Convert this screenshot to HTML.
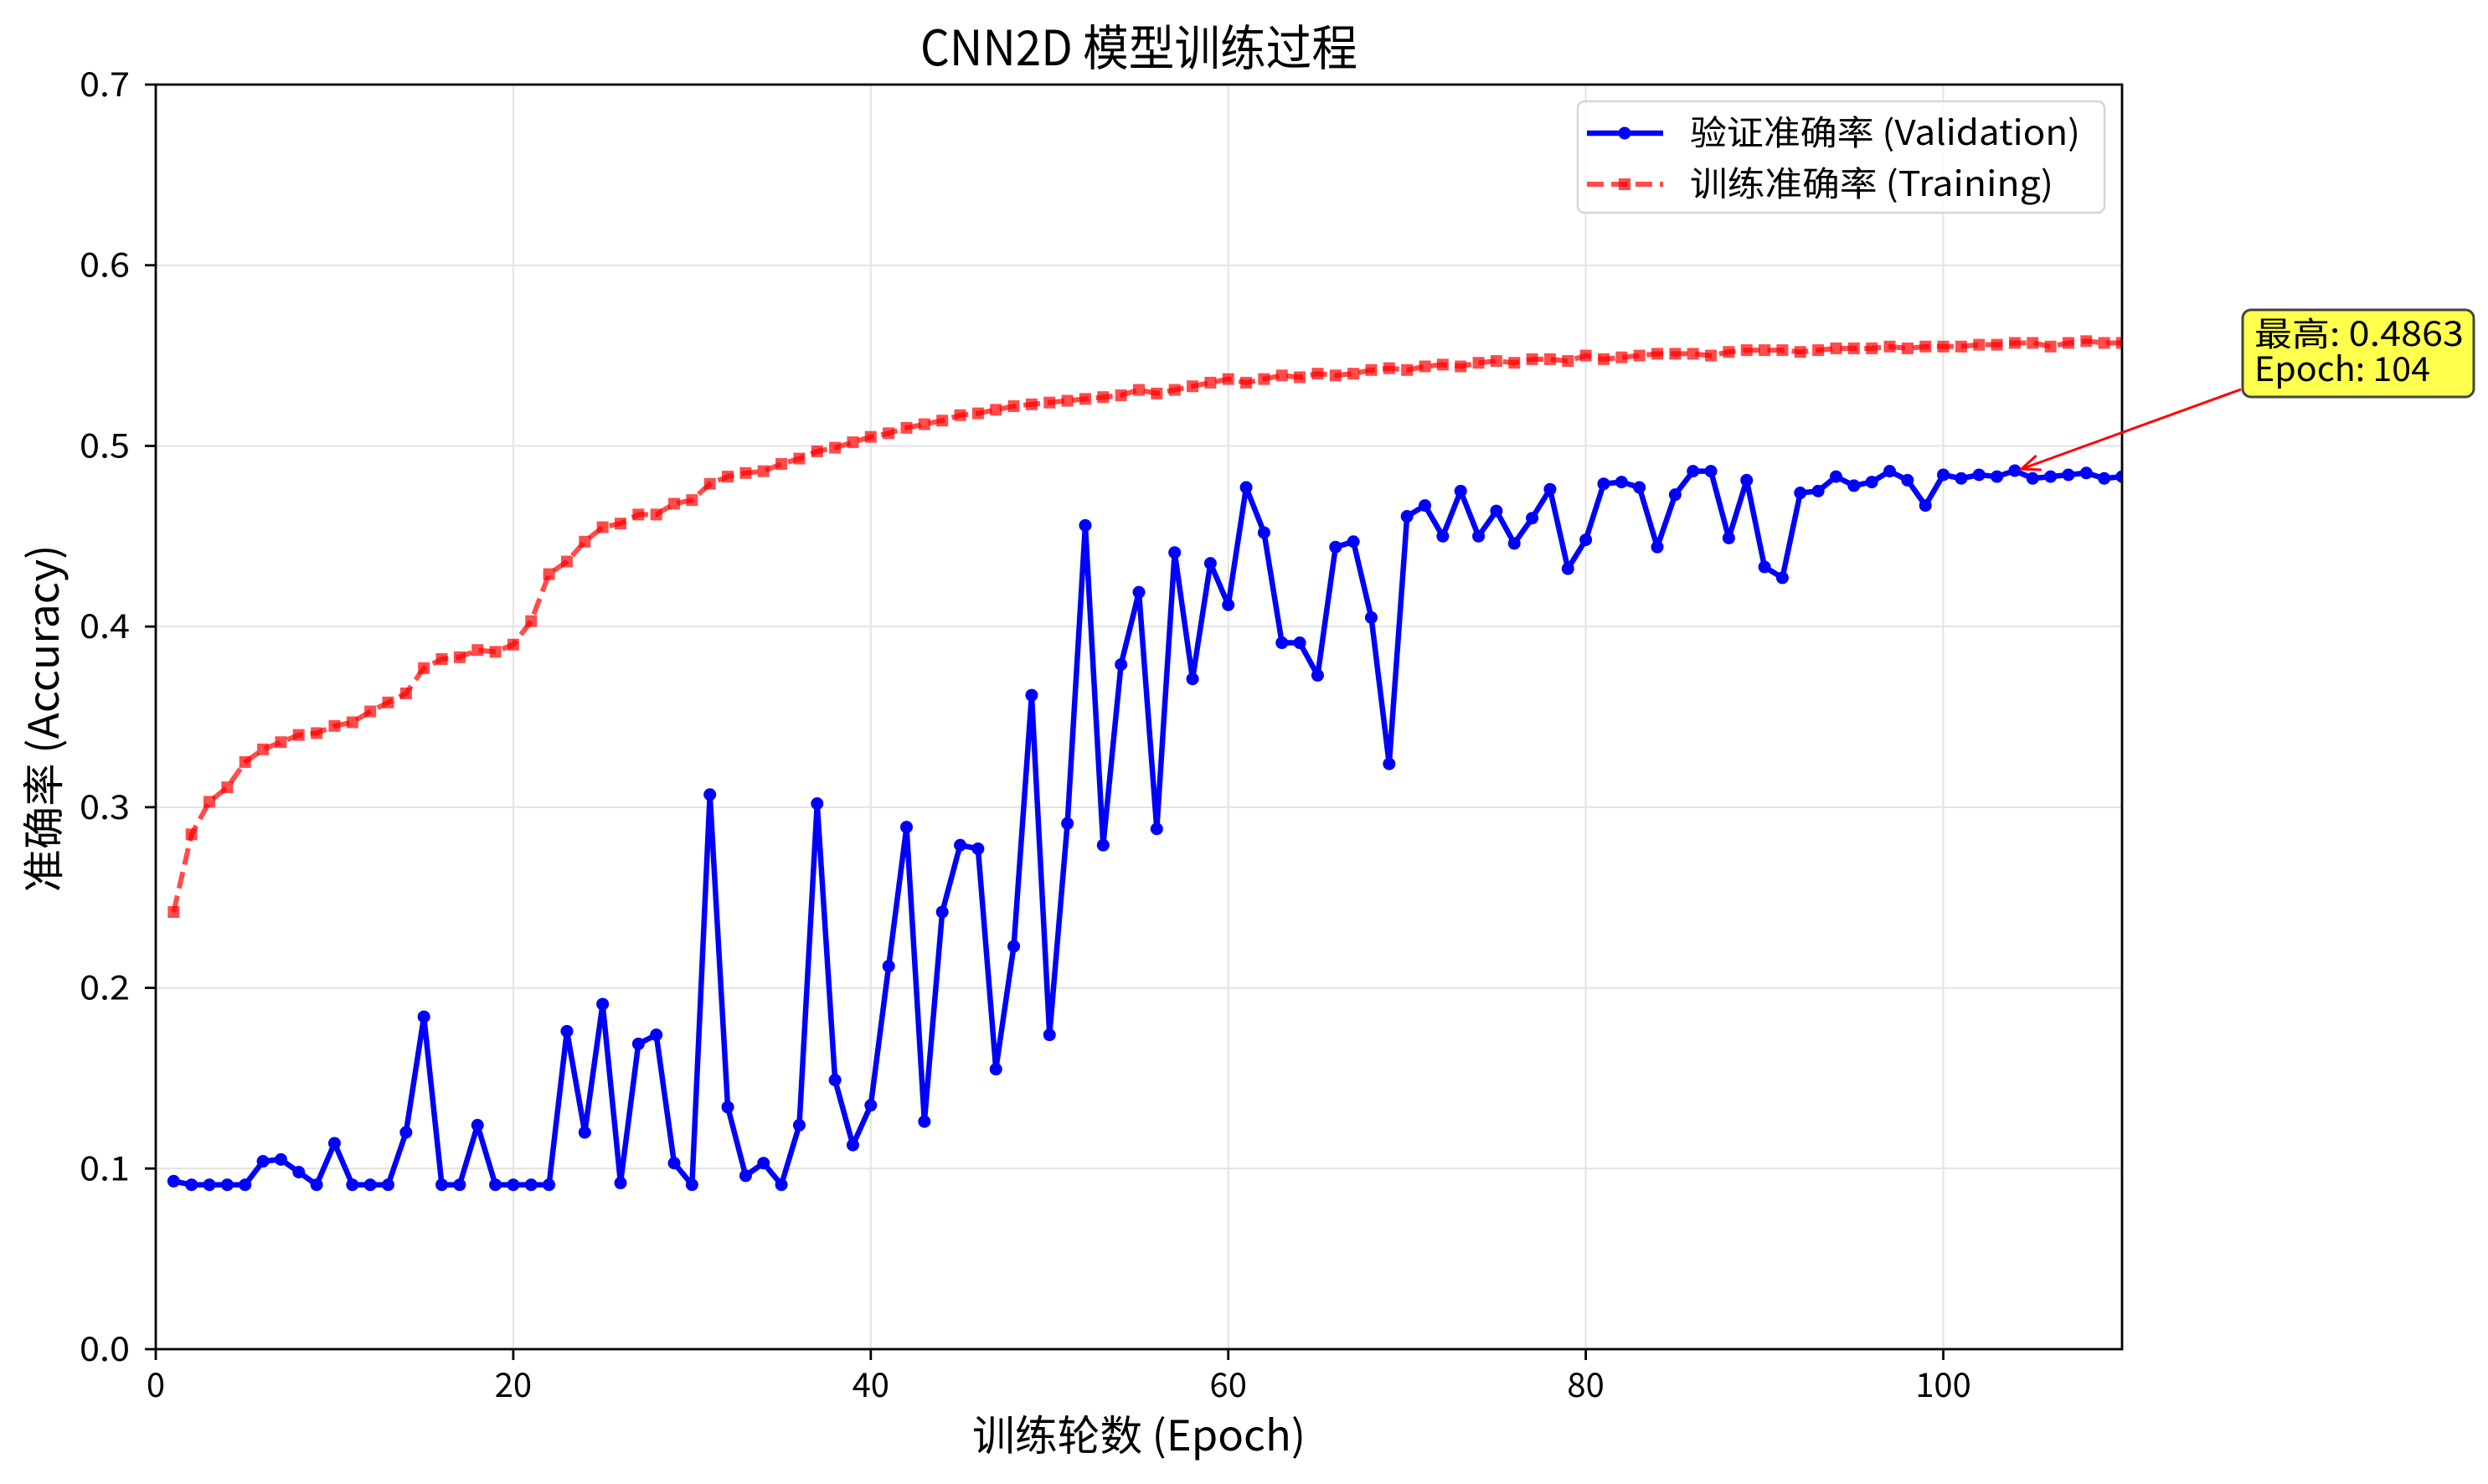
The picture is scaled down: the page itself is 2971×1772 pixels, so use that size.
<!DOCTYPE html>
<html><head><meta charset="utf-8"><style>
html,body{margin:0;padding:0;background:#fff}
svg text{font-family:"Noto Sans CJK SC","WenQuanYi Zen Hei",sans-serif;fill:#000}
</style></head><body>
<svg id="chart" width="2971" height="1767" viewBox="0 0 2971 1767" xmlns="http://www.w3.org/2000/svg">
<rect width="2971" height="1767" fill="#fff"/>
<g id="grid"></g>
<g id="series"></g>
<g id="axes"></g>
<text x="1360" y="78" font-size="58" text-anchor="middle" textLength="522" lengthAdjust="spacingAndGlyphs">CNN2D 模型训练过程</text>
<text x="1360" y="1732" font-size="50" text-anchor="middle" textLength="398" lengthAdjust="spacingAndGlyphs">训练轮数 (Epoch)</text>
<text x="0" y="0" font-size="50" text-anchor="middle" textLength="415" lengthAdjust="spacingAndGlyphs" transform="translate(70,858) rotate(-90)">准确率 (Accuracy)</text>
<g>
<rect x="1884" y="121" width="629" height="133" rx="8" fill="#fff" fill-opacity="0.8" stroke="#d6d6d6" stroke-width="2.5"/>
<g>
<line x1="1895" y1="159" x2="1986" y2="159" stroke="#0000ff" stroke-width="6.5"/>
<circle cx="1940" cy="159" r="7.5" fill="#0000ff"/>
<text x="2018" y="173" font-size="41" textLength="466" lengthAdjust="spacingAndGlyphs">验证准确率 (Validation)</text>
</g>
<g>
<line x1="1895" y1="220" x2="1986" y2="220" stroke="#ff0000" stroke-opacity="0.7" stroke-width="6" stroke-dasharray="20,9"/>
<rect x="1933" y="213" width="14" height="14" fill="#ff0000" fill-opacity="0.7"/>
<text x="2018" y="234" font-size="41" textLength="434" lengthAdjust="spacingAndGlyphs">训练准确率 (Training)</text>
</g>
</g>
<g>
<line id="annArrow" x1="2676" y1="465" x2="2420" y2="558" stroke="#ff0000" stroke-width="3"/>
<polyline id="annHead" points="" fill="none" stroke="#ff0000" stroke-width="3"/>
<rect x="2678" y="370" width="276" height="104" rx="10" fill="#ffff4d" stroke="#444" stroke-width="3"/>
<text x="2692" y="413" font-size="40" textLength="250" lengthAdjust="spacingAndGlyphs">最高: 0.4863</text>
<text x="2692" y="455" font-size="40" textLength="210" lengthAdjust="spacingAndGlyphs">Epoch: 104</text>
</g>
</svg>
<script>
const valAcc=[0.093,0.091,0.091,0.091,0.091,0.104,0.105,0.098,0.091,0.114,0.091,0.091,0.091,0.120,0.184,0.091,0.091,0.124,0.091,0.091,0.091,0.091,0.176,0.120,0.191,0.092,0.169,0.174,0.103,0.091,0.307,0.134,0.096,0.103,0.091,0.124,0.302,0.149,0.113,0.135,0.212,0.289,0.126,0.242,0.279,0.277,0.155,0.223,0.362,0.174,0.291,0.456,0.279,0.379,0.419,0.288,0.441,0.371,0.435,0.412,0.477,0.452,0.391,0.391,0.373,0.444,0.447,0.405,0.324,0.461,0.467,0.450,0.475,0.450,0.464,0.446,0.460,0.476,0.432,0.448,0.479,0.480,0.477,0.444,0.473,0.486,0.486,0.449,0.481,0.433,0.427,0.474,0.475,0.483,0.478,0.480,0.486,0.481,0.467,0.484,0.482,0.484,0.483,0.4863,0.482,0.483,0.484,0.485,0.482,0.483];
const trainAcc=[0.242,0.285,0.303,0.311,0.325,0.332,0.336,0.340,0.341,0.345,0.347,0.353,0.358,0.363,0.377,0.382,0.383,0.387,0.386,0.390,0.403,0.429,0.436,0.447,0.455,0.457,0.462,0.462,0.468,0.470,0.479,0.483,0.485,0.486,0.490,0.493,0.497,0.499,0.502,0.505,0.507,0.510,0.512,0.514,0.517,0.518,0.520,0.522,0.523,0.524,0.525,0.526,0.527,0.528,0.531,0.529,0.531,0.533,0.535,0.537,0.535,0.537,0.539,0.538,0.540,0.539,0.540,0.542,0.543,0.542,0.544,0.545,0.544,0.546,0.547,0.546,0.548,0.548,0.547,0.550,0.548,0.549,0.550,0.551,0.551,0.551,0.550,0.552,0.553,0.553,0.553,0.552,0.553,0.554,0.554,0.554,0.555,0.554,0.555,0.555,0.555,0.556,0.556,0.557,0.557,0.555,0.557,0.558,0.557,0.557];
const xTicks=[0,20,40,60,80,100];
const yTicks=[0.0,0.1,0.2,0.3,0.4,0.5,0.6,0.7];
const yTickLabels=["0.0","0.1","0.2","0.3","0.4","0.5","0.6","0.7"];
const bestEpoch=104, bestVal=0.4863;

const NS="http://www.w3.org/2000/svg";
const L=186,R=2534,T=101,B=1611,XMAX=110,YMAX=0.7;
const xs=v=>L+v/XMAX*(R-L);
const ys=v=>B-v/YMAX*(B-T);
function mk(tag,attrs,parent){const e=document.createElementNS(NS,tag);for(const k in attrs)e.setAttribute(k,attrs[k]);parent.appendChild(e);return e;}
const svg=document.getElementById('chart');
const defs=mk('defs',{},svg);
const cp=mk('clipPath',{id:'plotclip'},defs);
mk('rect',{x:L,y:T,width:R-L,height:B-T},cp);
const grid=document.getElementById('grid'),axes=document.getElementById('axes'),series=document.getElementById('series');
xTicks.forEach(t=>{
  const g=mk('line',{x1:xs(t),x2:xs(t),y1:T,y2:B,stroke:'#e3e3e3','stroke-width':2},grid);
  
  
  const tk=mk('line',{x1:xs(t),x2:xs(t),y1:B,y2:B+13,stroke:'#000','stroke-width':2.8},axes);
  
  
  const tx=mk('text',{x:xs(t),y:1668,'font-size':40,'text-anchor':'middle'},axes);
  tx.textContent=String(t);
  
  
});
yTicks.forEach((t,i)=>{
  const g=mk('line',{x1:L,x2:R,y1:ys(t),y2:ys(t),stroke:'#e3e3e3','stroke-width':2},grid);
  
  
  const tk=mk('line',{x1:L-13,x2:L,y1:ys(t),y2:ys(t),stroke:'#000','stroke-width':2.8},axes);
  
  
  const tx=mk('text',{x:155,y:ys(t)+14,'font-size':40,'text-anchor':'end',textLength:60,lengthAdjust:'spacingAndGlyphs'},axes);
  tx.textContent=yTickLabels[i];
  
  
});
const frame=mk('rect',{x:L,y:T,width:R-L,height:B-T,fill:'none',stroke:'#000','stroke-width':2.8},axes);



const sg=mk('g',{'clip-path':'url(#plotclip)'},series);
const tp=trainAcc.map((v,i)=>xs(i+1)+','+ys(v)).join(' ');
const tl=mk('polyline',{points:tp,fill:'none',stroke:'#ff0000','stroke-opacity':0.7,'stroke-width':6,'stroke-dasharray':'20,9'},sg);


trainAcc.forEach((v,i)=>{
  const m=mk('rect',{x:xs(i+1)-7,y:ys(v)-7,width:14,height:14,fill:'#ff0000','fill-opacity':0.7},sg);
  
  
});
const vp=valAcc.map((v,i)=>xs(i+1)+','+ys(v)).join(' ');
const vl=mk('polyline',{points:vp,fill:'none',stroke:'#0000ff','stroke-width':6.5,'stroke-linejoin':'round'},sg);


valAcc.forEach((v,i)=>{
  const m=mk('circle',{cx:xs(i+1),cy:ys(v),r:7.5,fill:'#0000ff'},sg);
  
  
});
const ax=xs(bestEpoch)+8, ay=ys(bestVal)-2;
const a=document.getElementById('annArrow');
a.setAttribute('x2',ax);a.setAttribute('y2',ay);
const dx=2676-ax, dy=465-ay, len=Math.hypot(dx,dy), ux=dx/len, uy=dy/len;
const hl=22, hw=9;
const p1=[ax+ux*hl-uy*hw, ay+uy*hl+ux*hw], p2=[ax+ux*hl+uy*hw, ay+uy*hl-ux*hw];
document.getElementById('annHead').setAttribute('points',p1.join(',')+' '+ax+','+ay+' '+p2.join(','));
</script>
</body></html>
